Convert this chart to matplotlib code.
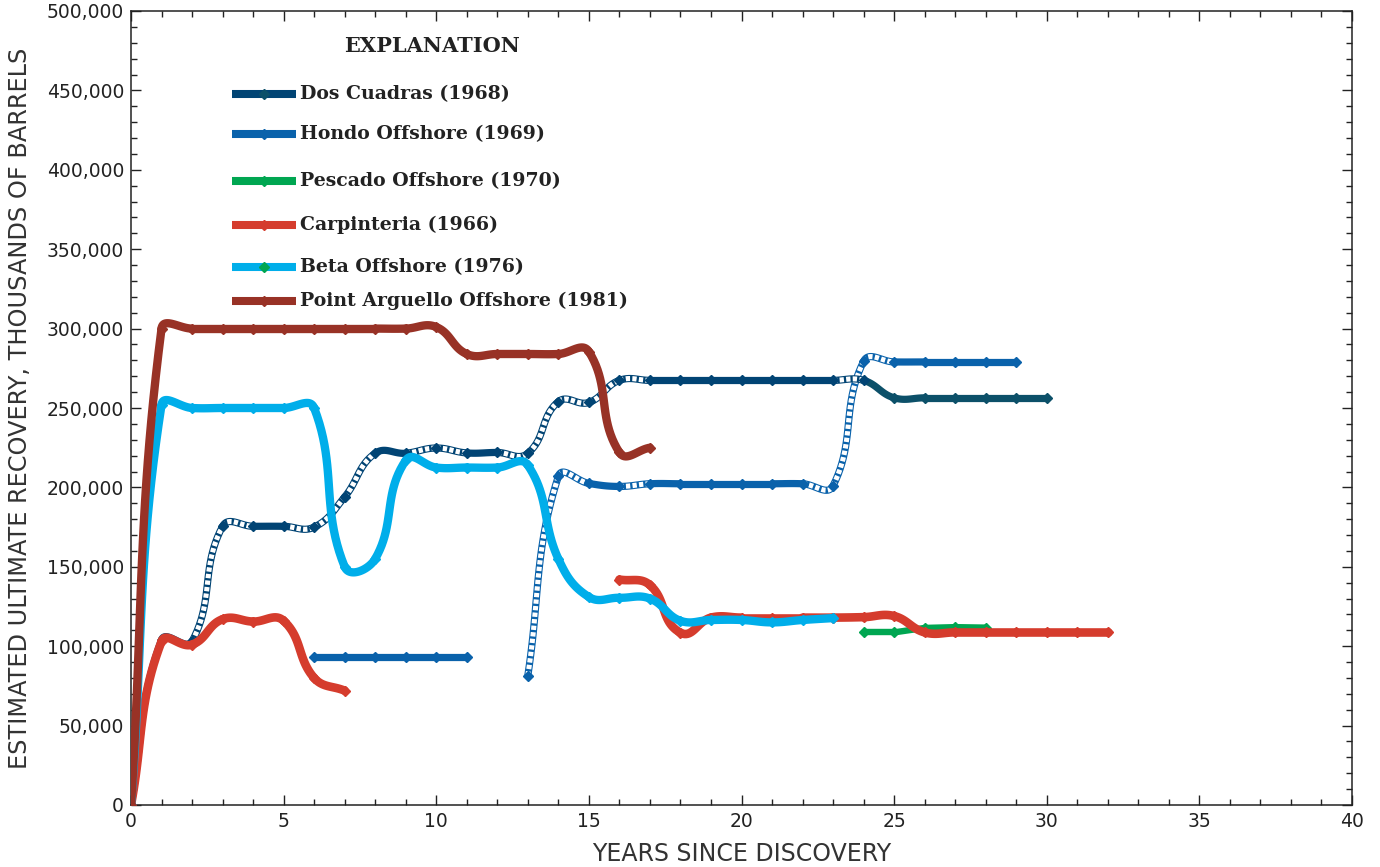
import numpy as np
import matplotlib
matplotlib.use("Agg")
import matplotlib.pyplot as plt
from matplotlib.ticker import MultipleLocator, FuncFormatter

# ---------------- data (years since discovery, thousands of barrels) ----------------
dos_years = list(range(0, 31))
dos_vals = [0, 104000, 103000, 175500, 175500, 175500, 175000, 194000, 221500, 221500,
            224800, 221700, 222000, 221500, 254000, 253500, 267400, 267400, 267400, 267400,
            267400, 267400, 267400, 267400, 267400, 256400, 256400, 256400, 256400, 256400,
            256400]

hondo1_years = [6, 7, 8, 9, 10, 11]
hondo1_vals = [93500, 93500, 93500, 93500, 93500, 93500]
hondo2_years = list(range(13, 30))
hondo2_vals = [81500, 207000, 202500, 200600, 202300, 202300, 202300, 202300, 202300, 202300,
               201000, 279400, 279000, 279000, 279000, 279000, 279000]

pescado_years = [24, 25, 26, 27, 28]
pescado_vals = [108700, 108700, 111500, 112000, 111700]

carp1_years = [0, 1, 2, 3, 4, 5, 6, 7]
carp1_vals = [0, 103000, 101000, 117000, 115500, 116000, 80000, 72000]
carp2_years = list(range(16, 33))
carp2_vals = [142000, 138500, 108500, 118000, 118000, 118000, 118000, 118000, 118300, 119000,
              108700, 108700, 108700, 108700, 108700, 108700, 108700]

beta_years = list(range(0, 24))
beta_vals = [0, 252000, 250000, 250000, 250000, 250000, 250000, 150000, 155000, 217000,
             212500, 212500, 212500, 214000, 155000, 131000, 130500, 130000, 116000, 116500,
             116500, 115000, 116500, 117700]

pa_years = list(range(0, 18))
pa_vals = [0, 300000, 300000, 300000, 300000, 300000, 300000, 300000, 300000, 300000,
           301000, 284000, 284000, 284000, 284000, 285500, 222000, 225000]

legend_labels = ["Dos Cuadras (1968)", "Hondo Offshore (1969)", "Pescado Offshore (1970)",
                 "Carpinteria (1966)", "Beta Offshore (1976)", "Point Arguello Offshore (1981)"]

# ---------------- styles ----------------
C_DOS = "#014474"
C_DOS2 = "#0C5069"
C_HONDO = "#0A62AB"
C_PESC = "#00A651"
C_CARP = "#D53C2D"
C_BETA = "#00AEEA"
C_PA = "#983226"

# segments (index of start point) drawn with the hatched (white box) pattern
dos_hatched = [0, 1, 2, 3, 5, 6, 7, 9, 10, 12, 13, 14, 15, 16, 23]
hondo2_hatched = [0, 1, 3, 9, 10, 11]

W, H = 1380, 867
fig = plt.figure(figsize=(W / 100, H / 100), dpi=100)
ax = fig.add_axes([131 / W, 1 - 805 / H, (1352 - 131) / W, (805 - 11) / H])
ax.set_xlim(0, 40)
ax.set_ylim(0, 500000)


def smooth_segments(xs, ys, tension=0.4, n=24):
    pts = ax.transData.transform(np.column_stack([xs, ys]).astype(float))
    N = len(pts)
    inv = ax.transData.inverted()
    segs = []
    for i in range(N - 1):
        p0 = pts[i - 1] if i > 0 else pts[i]
        p1 = pts[i]
        p2 = pts[i + 1]
        p3 = pts[i + 2] if i + 2 < N else pts[i + 1]
        d = np.linalg.norm(p2 - p1)
        t1 = p2 - p0
        n1 = np.linalg.norm(t1)
        t1 = t1 / n1 if n1 > 0 else t1 * 0
        t2 = p3 - p1
        n2 = np.linalg.norm(t2)
        t2 = t2 / n2 if n2 > 0 else t2 * 0
        c1 = p1 + t1 * tension * d
        c2 = p2 - t2 * tension * d
        t = np.linspace(0, 1, n)[:, None]
        b = (1 - t) ** 3 * p1 + 3 * (1 - t) ** 2 * t * c1 + 3 * (1 - t) * t ** 2 * c2 + t ** 3 * p2
        segs.append(inv.transform(b))
    return segs


def draw_series(xs, ys, color, lw, z, hatched=(), ms=5.5, smooth=True, seg_colors=None,
                marker_color=None):
    if smooth:
        segs = smooth_segments(xs, ys)
    else:
        segs = [np.array([[xs[i], ys[i]], [xs[i + 1], ys[i + 1]]]) for i in range(len(xs) - 1)]
    for i, s in enumerate(segs):
        c = seg_colors[i] if seg_colors is not None else color
        ax.plot(s[:, 0], s[:, 1], color=c, lw=lw, solid_capstyle="round",
                solid_joinstyle="round", zorder=z)
    for i in hatched:
        s = segs[i]
        ax.plot(s[:, 0], s[:, 1], color="white", lw=lw * 0.7, linestyle=(0, (0.85, 0.45)),
                dash_capstyle="butt", zorder=z + 0.1)
    mc = marker_color if marker_color is not None else color
    if isinstance(mc, list):
        for x, y, c in zip(xs, ys, mc):
            ax.plot([x], [y], "D", ms=ms, color=c, mec=c, zorder=z + 0.2)
    else:
        ax.plot(xs, ys, "D", ms=ms, color=mc, mec=mc, ls="none", zorder=z + 0.2)


# Hondo
draw_series(hondo1_years, hondo1_vals, C_HONDO, 5.2, 3)
draw_series(hondo2_years, hondo2_vals, C_HONDO, 5.2, 3, hatched=hondo2_hatched)
# Dos Cuadras
dos_seg_colors = [C_DOS] * 24 + [C_DOS2] * 6
dos_marker_colors = [C_DOS] * 25 + [C_DOS2] * 6
draw_series(dos_years, dos_vals, C_DOS, 5.2, 4, hatched=dos_hatched,
            seg_colors=dos_seg_colors, marker_color=dos_marker_colors)
# Pescado
draw_series(pescado_years, pescado_vals, C_PESC, 4.6, 5, smooth=False)
# Carpinteria
draw_series(carp1_years, carp1_vals, C_CARP, 6.2, 6)
draw_series(carp2_years, carp2_vals, C_CARP, 6.2, 6)
# Beta
draw_series(beta_years, beta_vals, C_BETA, 6.0, 7)
# Point Arguello
draw_series(pa_years, pa_vals, C_PA, 6.0, 8)

# ---------------- axes formatting ----------------
ax.xaxis.set_major_locator(MultipleLocator(5))
ax.xaxis.set_minor_locator(MultipleLocator(1))
ax.yaxis.set_major_locator(MultipleLocator(50000))
ax.yaxis.set_minor_locator(MultipleLocator(10000))
ax.yaxis.set_major_formatter(FuncFormatter(lambda v, p: f"{int(v):,}"))
ax.tick_params(which="both", direction="in", top=True, right=True, colors="#222222",
               labelsize=13.5, width=1.0)
ax.tick_params(which="major", length=7, pad=5)
ax.tick_params(which="minor", length=4.5)
for sp in ax.spines.values():
    sp.set_linewidth(1.1)
    sp.set_color("#222222")

ax.set_xlabel("YEARS SINCE DISCOVERY", fontsize=17, color="#333333")
ax.xaxis.set_label_coords(0.5, -0.046)
ax.set_ylabel("ESTIMATED ULTIMATE RECOVERY, THOUSANDS OF BARRELS", fontsize=17.3,
              color="#333333")
ax.yaxis.set_label_coords(-0.081, 0.5)

# ---------------- legend (EXPLANATION) ----------------
def fx(px):
    return (px - 131) / (1352 - 131)


def fy(py):
    return (805 - py) / (805 - 11)


ax.text(fx(432), fy(46), "EXPLANATION", transform=ax.transAxes, ha="center", va="center",
        fontsize=15, fontweight="bold", family="DejaVu Serif", color="#222222")
leg_colors = [C_DOS, C_HONDO, C_PESC, C_CARP, C_BETA, C_PA]
leg_mcolors = [C_DOS2, C_HONDO, C_PESC, C_CARP, C_PESC, C_PA]
leg_y = [94, 134, 181, 225, 267, 301]
for lab, c, mc, py in zip(legend_labels, leg_colors, leg_mcolors, leg_y):
    ax.plot([fx(232), fx(296)], [fy(py), fy(py)], color=c, lw=5.8, transform=ax.transAxes,
            solid_capstyle="butt", zorder=9)
    ax.plot([fx(264)], [fy(py)], "D", ms=5, color=mc, transform=ax.transAxes, zorder=9.2)
    ax.text(fx(300), fy(py), lab, transform=ax.transAxes, ha="left", va="center",
            fontsize=13.6, fontweight="bold", family="DejaVu Serif", color="#222222")

fig.savefig("out.png", dpi=100)
